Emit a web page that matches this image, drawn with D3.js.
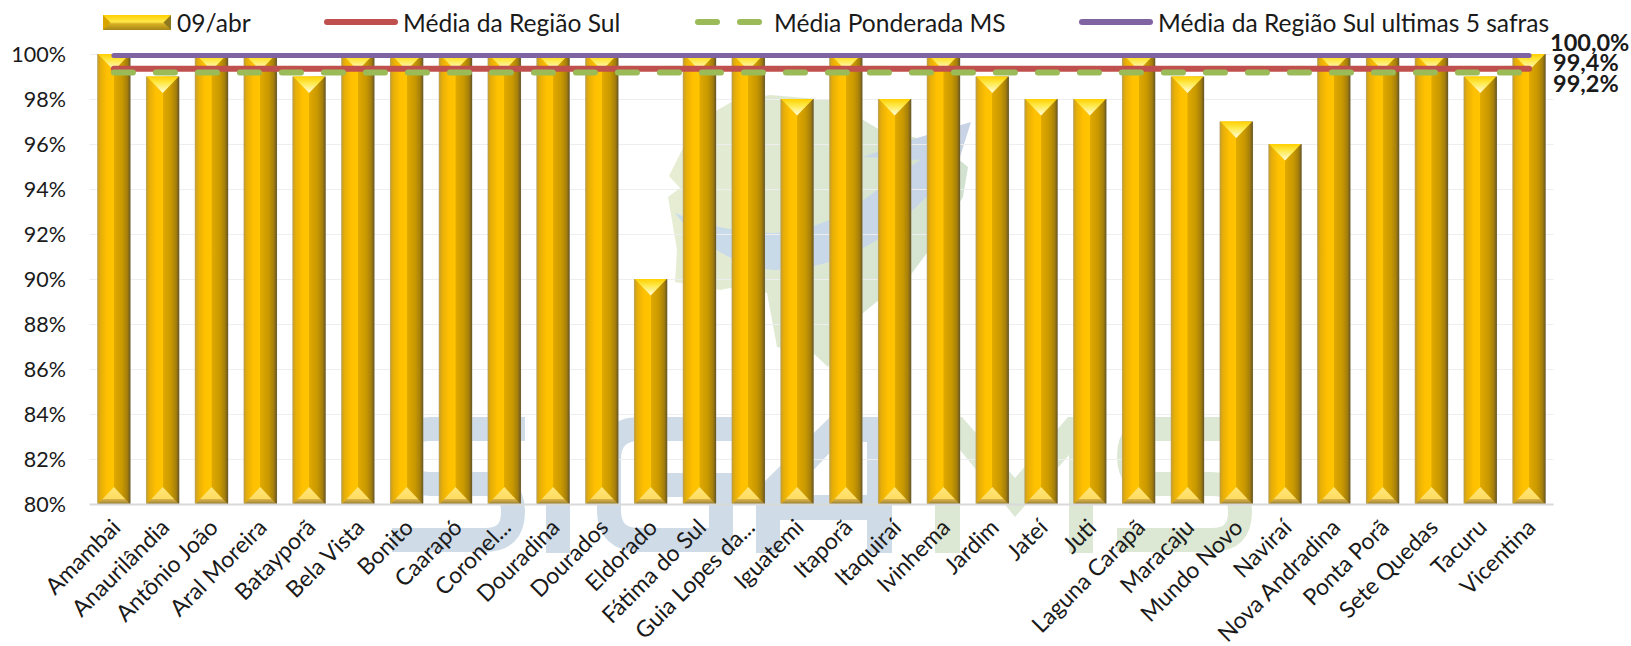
<!DOCTYPE html>
<html><head><meta charset="utf-8">
<script src="https://cdn.jsdelivr.net/npm/d3@7/dist/d3.min.js"></script>
<style>html,body{margin:0;padding:0;background:#fff}svg{display:block}text{font-family:Lato,"Open Sans",sans-serif;fill:#1a1a1a}</style>
</head><body><svg id="c" width="1631" height="646"></svg>
<script>
const categories=["Amambai","Anaurilândia","Antônio João","Aral Moreira","Batayporã","Bela Vista","Bonito","Caarapó","Coronel...","Douradina","Dourados","Eldorado","Fátima do Sul","Guia Lopes da...","Iguatemi","Itaporã","Itaquiraí","Ivinhema","Jardim","Jateí","Juti","Laguna Carapã","Maracaju","Mundo Novo","Naviraí","Nova Andradina","Ponta Porã","Sete Quedas","Tacuru","Vicentina"];
const harvested=[100,99,100,100,99,100,100,100,100,100,100,90,100,100,98,100,98,100,99,98,98,100,99,97,96,100,100,100,99,100];
const mediaRegiaoSul=99.34;
const mediaPonderadaMS=99.18;
const mediaUltimasSafras=99.93;
const yTicks=[80,82,84,86,88,90,92,94,96,98,100];
const endLabels=["100,0%","99,4%","99,2%"];
const seriesNames=["09/abr","Média da Região Sul","Média Ponderada MS","Média da Região Sul ultimas 5 safras"];

const svg=d3.select("#c");
const defs=svg.append("defs");
function grad(id,stops,v){const g=defs.append("linearGradient").attr("id",id).attr("x1",0).attr("y1",0).attr("x2",v?0:1).attr("y2",v?1:0);
 stops.forEach(s=>g.append("stop").attr("offset",s[0]).attr("stop-color",s[1]));}
grad("body",[[0,"#b9a878"],[.03,"#c9a02a"],[.1,"#e6ae08"],[.3,"#ffc000"],[.498,"#ffc400"],[.502,"#e2aa00"],[.75,"#c89800"],[.9,"#a57f0c"],[.98,"#6e5a22"],[1,"#a09a80"]]);
grad("topTri",[[0,"#ffd000"],[.4,"#ffe94a"],[1,"#fffde0"]],true);
grad("botTri",[[0,"#ffe678"],[.7,"#ffdc62"],[.72,"#d8b24a"],[.88,"#b8963c"],[1,"#8f7a30"]],true);
grad("legMid",[[0,"#ffce00"],[.45,"#ffe94a"],[.6,"#d6ae22"],[1,"#a58618"]],true);
grad("mapFill",[[0,"#e6edd3"],[1,"#d2e2d0"]]);
grad("swoosh",[[0,"#c9dcea"],[1,"#c8d4e6"]]);

// watermark
const wm=svg.append("g");
wm.append("path").attr("fill","url(#mapFill)").attr("d","M669,176L683,148L700,120L735,100L770,95L830,100L880,130L917,138L962,162L968,167L963,197L927,253L912,273L863,313L828,367L813,353L777,347L767,293L730,288L720,290L675,282L677,250L668,197L680,188Z");
wm.append("path").attr("fill","url(#swoosh)").attr("d","M675,213Q720,232 773,233Q825,232 877,190L920,160L863,157L917,138L971,122L960,157Q935,195 877,240Q830,270 773,270Q725,265 683,223Z");
const blue="#cfdce8",green="#dce8d4";
const wmStrokes=[
 [blue,"M525,429H430Q404,429 404,456Q404,484 430,484H485Q513,484 513,512Q513,540 485,540H392"],
 [blue,"M558,417V553"],
 [blue,"M745,429H640Q609,429 609,460V510Q609,540 640,540H721V485H655"],
 [green,"M1252,429H1155Q1129,429 1129,456Q1129,484 1155,484H1212Q1240,484 1240,512Q1240,540 1212,540H1117"]];
wm.selectAll("path.l").data(wmStrokes).join("path").attr("class","l").attr("fill","none").attr("stroke-width",24).attr("stroke",d=>d[0]).attr("d",d=>d[1]);
wm.append("path").attr("fill",blue).attr("fill-rule","evenodd").attr("d","M756,553V490L830,417H892V553H867V520H780V553ZM867,442H840L790,495H867Z");
wm.append("path").attr("fill",green).attr("d","M935,553V417H962L1015,478L1068,417H1093V553H1069V455L1015,517L960,450V553Z");

const x=d3.scaleBand().domain(categories).range([89.5,1553.5]).paddingInner(.313).paddingOuter(.157);
const y=d3.scaleLinear().domain([80,100]).range([504,54]);

// grid
const grid=svg.append("g").attr("transform","translate(89.5,0)").call(d3.axisRight(y).tickValues(yTicks.slice(1)).tickSize(1464).tickFormat(""));
grid.select(".domain").remove();
grid.selectAll("line").attr("stroke","#eeeeee").attr("stroke-width",1.2);

// y axis
const ya=svg.append("g").attr("transform","translate(66,0)").call(d3.axisLeft(y).tickValues(yTicks).tickSize(0).tickPadding(0).tickFormat(d=>d+"%"));
ya.select(".domain").remove();
ya.selectAll("text").attr("font-size",21.5).attr("font-family",null).attr("fill","#1a1a1a").attr("dy","0.36em");

// bars
const rows=categories.map((c,i)=>({c,v:harvested[i]}));
const bars=svg.selectAll("g.bar").data(rows).join("g").attr("class","bar");
const bw=x.bandwidth();
bars.append("rect").attr("x",d=>x(d.c)).attr("y",d=>y(d.v)).attr("width",bw).attr("height",d=>y(80)-y(d.v)).attr("fill","url(#body)");
bars.append("polygon").attr("fill","url(#topTri)").attr("points",d=>{const a=x(d.c),t=y(d.v);return `${a+.8},${t} ${a+bw-.8},${t} ${a+bw/2},${t+16.5}`;});
bars.append("polygon").attr("fill","url(#botTri)").attr("points",d=>{const a=x(d.c),b=y(80);return `${a+.8},${b} ${a+bw-.8},${b} ${a+bw/2},${b-17}`;});

// baseline
svg.append("line").attr("x1",89.5).attr("x2",1553.5).attr("y1",y(80)+.5).attr("y2",y(80)+.5).attr("stroke","#d9d9d9").attr("stroke-width",2);

// category labels
svg.append("g").selectAll("text").data(categories).join("text")
 .attr("text-anchor","end").attr("font-size",23)
 .attr("transform",d=>`translate(${x(d)+bw/2+8},${y(80)+25}) rotate(-45)`).text(d=>d);

// lines
const line=d3.line().x(d=>x(d)+bw/2);
function drawLine(v,color,dash,w){
 const p=svg.append("path").attr("fill","none").attr("stroke",color).attr("stroke-width",w).attr("stroke-linecap","round")
  .attr("d",line.y(()=>y(v))(categories));
 if(dash)p.attr("stroke-dasharray",dash);
}
drawLine(mediaRegiaoSul,"#c0504d",null,6);
drawLine(mediaPonderadaMS,"#9bbb59","19 23",6);
drawLine(mediaUltimasSafras,"#8064a2",null,5);

// end labels
const endY=[43,63,84];
svg.append("g").selectAll("text").data(endLabels).join("text")
 .attr("x",(d,i)=>i?1553:1550).attr("y",(d,i)=>endY[i]).attr("dy","0.36em").attr("font-size",23.5).attr("font-weight",700).text(d=>d);

// legend
const lg=svg.append("g");
lg.append("rect").attr("x",103).attr("y",15).attr("width",68).attr("height",15).attr("fill","url(#legMid)");
lg.append("polygon").attr("points","103,15 110.5,22.5 103,30").attr("fill","#d9a400");
lg.append("polygon").attr("points","171,15 163.5,22.5 171,30").attr("fill","#8f7a20");
const legText=[[177,seriesNames[0]],[403,seriesNames[1]],[774,seriesNames[2]],[1158,seriesNames[3]]];
lg.selectAll("text").data(legText).join("text").attr("x",d=>d[0]).attr("y",23).attr("dy","0.36em").attr("font-size",24.6).text(d=>d[1]);
const legLines=[["#c0504d",327,395,null],["#9bbb59",698,760,"19 23"],["#8064a2",1082,1150,null]];
lg.selectAll("line").data(legLines).join("line").attr("x1",d=>d[1]).attr("x2",d=>d[2]).attr("y1",22).attr("y2",22).attr("stroke",d=>d[0]).attr("stroke-width",6).attr("stroke-linecap","round").attr("stroke-dasharray",d=>d[3]);
</script></body></html>
